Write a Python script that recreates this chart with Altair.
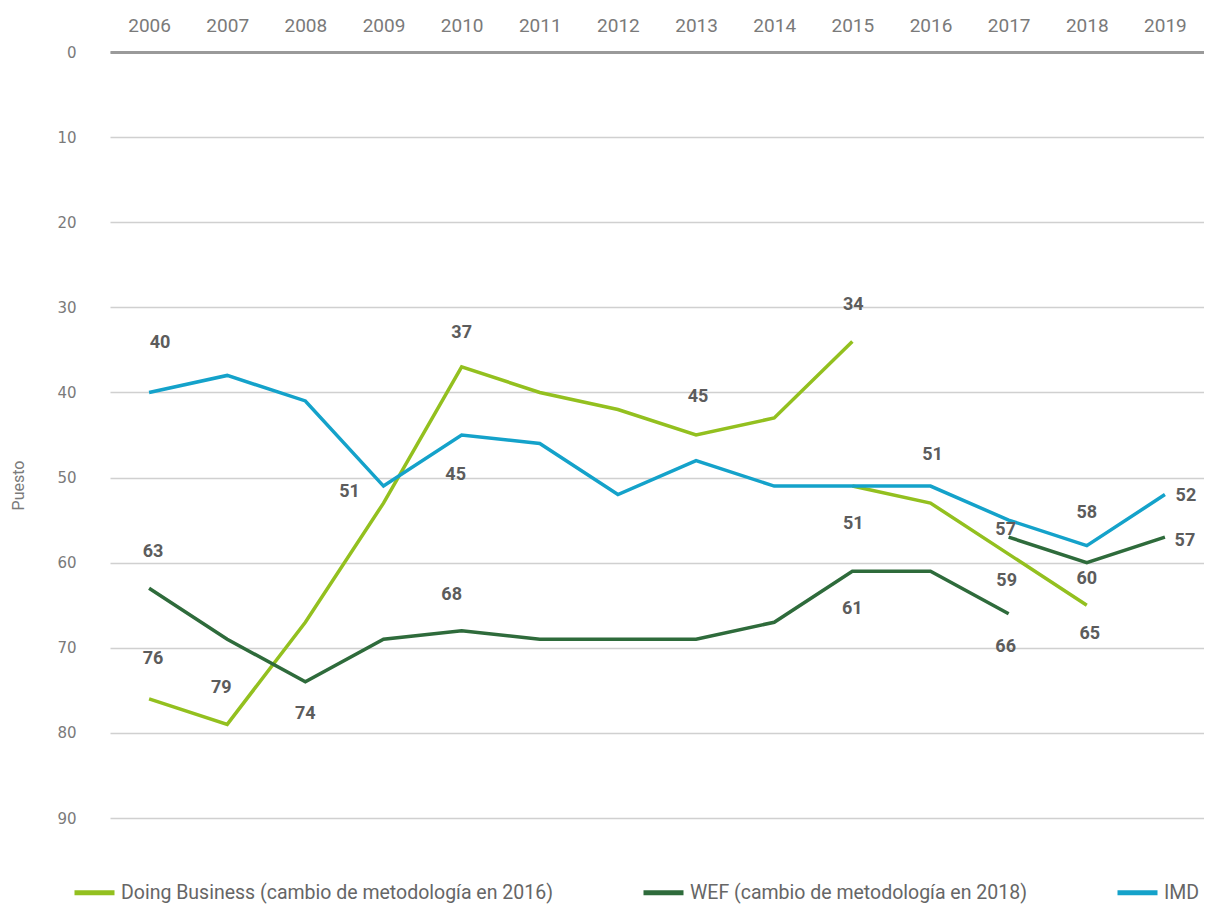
import altair as alt
import pandas as pd

# ---- data ----
years = list(range(2006, 2020))

db_years = list(range(2006, 2016))
db_vals = [76, 79, 67, 53, 37, 40, 42, 45, 43, 34]
db_new_years = [2015, 2016, 2017, 2018]
db_new_vals = [51, 53, 59, 65]

wef_years = list(range(2006, 2018))
wef_vals = [63, 69, 74, 69, 68, 69, 69, 69, 67, 61, 61, 66]
wef_new_years = [2017, 2018, 2019]
wef_new_vals = [57, 60, 57]

imd_years = years
imd_vals = [40, 38, 41, 51, 45, 46, 52, 48, 51, 51, 51, 55, 58, 52]

series_names = [
    "Doing Business (cambio de metodología en 2016)",
    "WEF (cambio de metodología en 2018)",
    "IMD",
]
y_ticks = [0, 10, 20, 30, 40, 50, 60, 70, 80, 90]

# ---- styling ----
colors = ["#93C01F", "#2E6B3B", "#14A2CA"]
grey_text = "#7a7a7a"
narrow = "Liberation Sans Narrow, Roboto, sans-serif"

rows = []
for seg, name, ys, vs in [
    ("DB", series_names[0], db_years, db_vals),
    ("DB2", series_names[0], db_new_years, db_new_vals),
    ("WEF", series_names[1], wef_years, wef_vals),
    ("WEF2", series_names[1], wef_new_years, wef_new_vals),
    ("IMD", series_names[2], imd_years, imd_vals),
]:
    for yr, v in zip(ys, vs):
        rows.append({"year": yr, "value": v, "series": name, "segment": seg,
                     "key": f"{seg}-{yr}"})
df = pd.DataFrame(rows)

# label placement (pixel offsets from the point) -- style only
label_offsets = {
    "IMD-2006": (11, -49), "WEF-2006": (4, -36), "DB-2006": (4, -40),
    "DB-2007": (-6, -36), "WEF-2008": (0, 32), "IMD-2009": (-34, 6),
    "DB-2010": (0, -34), "IMD-2010": (-6, 40), "WEF-2010": (-10, -36),
    "DB-2013": (2, -38), "DB-2015": (1, -36), "DB2-2015": (1, 38),
    "WEF-2015": (0, 38), "IMD-2016": (2, -31), "WEF2-2017": (-3, -7),
    "DB2-2017": (-2, 27), "WEF-2017": (-3, 33), "IMD-2018": (0, -33),
    "WEF2-2018": (0, 16), "DB2-2018": (3, 29), "IMD-2019": (21, 1),
    "WEF2-2019": (20, 4),
}

x_enc = alt.X(
    "year:O",
    scale=alt.Scale(domain=years, padding=0.5),
    axis=alt.Axis(
        orient="top", title=None, ticks=False, grid=False,
        domainColor="#9a9a9a", domainWidth=3,
        labelFont=narrow, labelFontSize=19, labelColor=grey_text,
        labelPadding=17, labelAngle=0,
    ),
)
y_enc = alt.Y(
    "value:Q",
    scale=alt.Scale(domain=[0, 90], reverse=True, nice=False, zero=False),
    axis=alt.Axis(
        values=y_ticks, title="Puesto", grid=True, gridColor="#d0d0d0",
        gridWidth=1.5, domain=False, ticks=False,
        labelFont="DejaVu Sans", labelFontSize=15, labelColor=grey_text,
        labelPadding=34,
        titleFont=narrow, titleFontSize=16, titleColor=grey_text,
        titleFontWeight="normal", titleX=-92, titleY=433, titleAngle=270,
        titleAlign="center", titleBaseline="middle",
    ),
)

lines = alt.Chart().mark_line(strokeWidth=3.5).encode(
    x=x_enc,
    y=y_enc,
    color=alt.Color(
        "series:N",
        scale=alt.Scale(domain=series_names, range=colors),
        legend=alt.Legend(
            orient="none", legendX=-38, legendY=818, direction="horizontal",
            title=None, symbolType="stroke", symbolStrokeWidth=5,
            symbolSize=1600, labelFont=narrow, labelFontSize=19.5,
            labelColor="#666666", columnPadding=80, labelOffset=4,
            labelLimit=700,
        ),
    ),
    detail="segment:N",
    order="year:O",
)

label_layers = []
for key, (dx, dy) in label_offsets.items():
    label_layers.append(
        alt.Chart().transform_filter(alt.datum.key == key)
        .mark_text(dx=dx, dy=dy, font="Roboto", fontSize=18,
                   fontWeight="bold", color="#5c5c5c",
                   align="center", baseline="middle")
        .encode(x="year:O", y="value:Q", text="value:Q")
    )

chart = alt.layer(lines, *label_layers, data=df).properties(
    width=1094, height=766,
    padding={"left": 102, "top": 44, "right": 0, "bottom": 86},
    autosize=alt.AutoSizeParams(type="none"),
).configure_view(stroke=None)

chart.save("out.html", embed_options={"renderer": "svg", "actions": False})
